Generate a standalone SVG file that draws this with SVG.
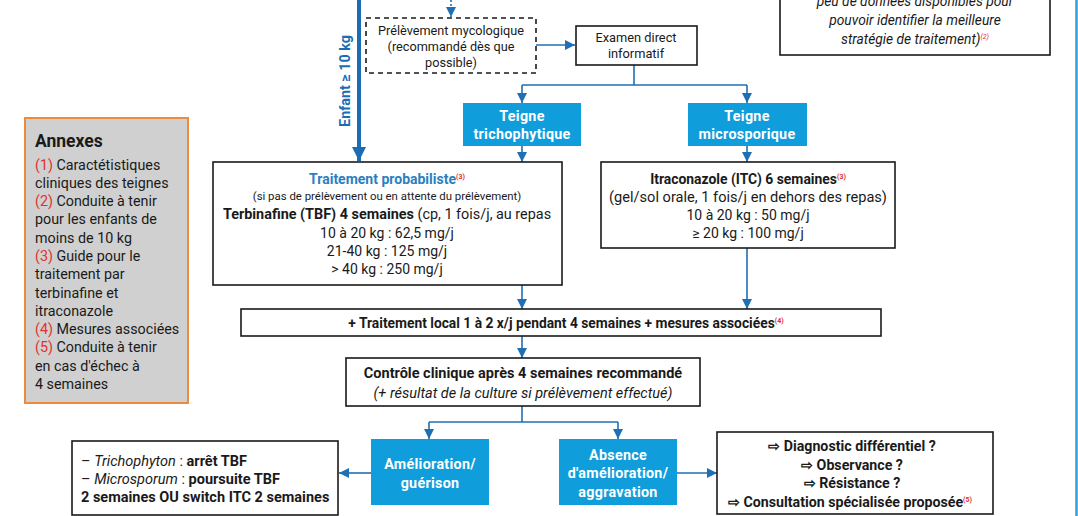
<svg xmlns="http://www.w3.org/2000/svg" width="1078" height="516" viewBox="0 0 1078 516">
<defs>
<style>
text{font-family:Roboto,"Liberation Sans",sans-serif;fill:#1a1a1a}
.c{text-anchor:middle}
.b{font-weight:bold}
.i{font-style:italic}
.w{fill:#ffffff;font-weight:bold;font-size:14.3px;letter-spacing:0.3px}
.sup{fill:#e03030;font-size:7px}
.red{fill:#e03030}
.box{fill:#ffffff;stroke:#1a1a1a;stroke-width:1.6}
.blue{fill:#0f9ddb}
.ln{fill:none;stroke:#1f6fb4;stroke-width:1.6}
</style>
<marker id="ah" markerUnits="userSpaceOnUse" markerWidth="10" markerHeight="10" refX="8" refY="4" orient="auto" viewBox="0 0 8 8">
<path d="M0,0 L8,4 L0,8 z" fill="#1f6fb4"/>
</marker>
<marker id="ahb" markerUnits="userSpaceOnUse" markerWidth="16" markerHeight="14" refX="14" refY="7" orient="auto" viewBox="0 0 14 14">
<path d="M0,0 L14,7 L0,14 z" fill="#1a6db3"/>
</marker>
</defs>
<rect width="1078" height="516" fill="#ffffff"/>
<line x1="1076.5" y1="0" x2="1076.5" y2="516" stroke="#2aa0dc" stroke-width="2.5"/>

<g id="connectors">
<line x1="359" y1="0" x2="359" y2="161" stroke="#1a6db3" stroke-width="4" marker-end="url(#ahb)"/>
<line x1="451" y1="0" x2="451" y2="17" stroke="#1f6fb4" stroke-width="1.6" stroke-dasharray="2,2" marker-end="url(#ah)"/>
<line class="ln" x1="536" y1="45" x2="575" y2="45" marker-end="url(#ah)"/>
<polyline class="ln" points="634,65 634,85"/>
<polyline class="ln" points="522,85 747,85"/>
<line class="ln" x1="522" y1="85" x2="522" y2="103" marker-end="url(#ah)"/>
<line class="ln" x1="747" y1="85" x2="747" y2="103" marker-end="url(#ah)"/>
<line class="ln" x1="522" y1="146" x2="522" y2="162" marker-end="url(#ah)"/>
<line class="ln" x1="747" y1="146" x2="747" y2="162" marker-end="url(#ah)"/>
<line class="ln" x1="522" y1="285" x2="522" y2="309" marker-end="url(#ah)"/>
<line class="ln" x1="747" y1="248" x2="747" y2="309" marker-end="url(#ah)"/>
<line class="ln" x1="522" y1="336" x2="522" y2="358" marker-end="url(#ah)"/>
<polyline class="ln" points="522,406 522,422"/>
<polyline class="ln" points="429,422 618,422"/>
<line class="ln" x1="429" y1="422" x2="429" y2="439" marker-end="url(#ah)"/>
<line class="ln" x1="618" y1="422" x2="618" y2="439" marker-end="url(#ah)"/>
<line class="ln" x1="371" y1="473" x2="339" y2="473" marker-end="url(#ah)"/>
<line class="ln" x1="677" y1="473" x2="717" y2="473" marker-end="url(#ah)"/>
<text class="b c" transform="translate(350,81) rotate(-90)" style="fill:#1a6db3;font-size:14.3px">Enfant ≥ 10 kg</text>
</g>

<g id="top-right-note">
<rect class="box" x="780" y="-20" width="270" height="75"/>
<text class="c i" x="915" y="6" font-size="13.8">peu de données disponibles pour</text>
<text class="c i" x="915" y="25" font-size="13.8">pouvoir identifier la meilleure</text>
<text class="c i" x="915" y="44" font-size="13.8">stratégie de traitement)<tspan class="sup" dy="-5">(2)</tspan></text>
</g>

<g id="prelevement">
<rect x="366" y="18" width="170" height="55" fill="#ffffff" stroke="#1a1a1a" stroke-width="1.6" stroke-dasharray="5,4"/>
<text class="c" x="451" y="35" font-size="12.7">Prélèvement mycologique</text>
<text class="c" x="451" y="51" font-size="12.7">(recommandé dès que</text>
<text class="c" x="451" y="67" font-size="12.7">possible)</text>
</g>

<g id="examen">
<rect class="box" x="576" y="26" width="121" height="39"/>
<text class="c" x="636" y="42" font-size="12.8">Examen direct</text>
<text class="c" x="636" y="58" font-size="12.8">informatif</text>
</g>

<g id="teigne-tricho">
<rect class="blue" x="463" y="103" width="118" height="43"/>
<text class="c w" x="522" y="121">Teigne</text>
<text class="c w" x="522" y="139">trichophytique</text>
</g>

<g id="teigne-micro">
<rect class="blue" x="688" y="103" width="119" height="43"/>
<text class="c w" x="747" y="121">Teigne</text>
<text class="c w" x="747" y="139">microsporique</text>
</g>

<g id="annexes">
<rect x="25" y="118" width="163" height="285" fill="#d0d0d0" stroke="#ee8a3c" stroke-width="2"/>
<text class="b" x="35" y="147" font-size="17.5">Annexes</text>
<g font-size="14.3">
<text x="35" y="170"><tspan class="red">(1)</tspan> Caractétistiques</text>
<text x="35" y="188">cliniques des teignes</text>
<text x="35" y="206"><tspan class="red">(2)</tspan> Conduite à tenir</text>
<text x="35" y="224">pour les enfants de</text>
<text x="35" y="243">moins de 10 kg</text>
<text x="35" y="261"><tspan class="red">(3)</tspan> Guide pour le</text>
<text x="35" y="279">traitement par</text>
<text x="35" y="298">terbinafine et</text>
<text x="35" y="316">itraconazole</text>
<text x="35" y="334"><tspan class="red">(4)</tspan> Mesures associées</text>
<text x="35" y="352"><tspan class="red">(5)</tspan> Conduite à tenir</text>
<text x="35" y="371">en cas d'échec à</text>
<text x="35" y="389">4 semaines</text>
</g>
</g>

<g id="traitement-probabiliste">
<rect class="box" x="213" y="162" width="349" height="123"/>
<text class="c b" x="387" y="184" font-size="14" style="fill:#2a7fc0">Traitement probabiliste<tspan class="sup" dy="-5">(3)</tspan></text>
<text class="c" x="387" y="200" font-size="11.4">(si pas de prélèvement ou en attente du prélèvement)</text>
<text class="c" x="387" y="219" font-size="14.4"><tspan class="b">Terbinafine (TBF) 4 semaines</tspan> (cp, 1 fois/j, au repas</text>
<text class="c" x="387" y="238" font-size="14">10 à 20 kg : 62,5 mg/j</text>
<text class="c" x="387" y="256" font-size="14">21-40 kg : 125 mg/j</text>
<text class="c" x="387" y="274" font-size="14">&gt; 40 kg : 250 mg/j</text>
</g>

<g id="itraconazole">
<rect class="box" x="601" y="162" width="294" height="86"/>
<text class="c b" x="748" y="184" font-size="13.9">Itraconazole (ITC) 6 semaines<tspan class="sup" dy="-5">(3)</tspan></text>
<text class="c" x="748" y="202" font-size="14.6">(gel/sol orale, 1 fois/j en dehors des repas)</text>
<text class="c" x="748" y="220" font-size="14">10 à 20 kg : 50 mg/j</text>
<text class="c" x="748" y="238" font-size="14">≥ 20 kg : 100 mg/j</text>
</g>

<g id="traitement-local">
<rect class="box" x="241" y="309" width="640" height="27"/>
<text class="c b" x="566" y="327.5" font-size="13.8">+ Traitement local 1 à 2 x/j pendant 4 semaines + mesures associées<tspan class="sup" dy="-5">(4)</tspan></text>
</g>

<g id="controle">
<rect class="box" x="346" y="358" width="354" height="48"/>
<text class="c b" x="523" y="378" font-size="14.5">Contrôle clinique après 4 semaines recommandé</text>
<text class="c i" x="523" y="398" font-size="14.5">(+ résultat de la culture si prélèvement effectué)</text>
</g>

<g id="amelioration">
<rect class="blue" x="371" y="439" width="118" height="66"/>
<text class="c w" x="430" y="469">Amélioration/</text>
<text class="c w" x="430" y="488">guérison</text>
</g>

<g id="absence">
<rect class="blue" x="559" y="439" width="118" height="66"/>
<text class="c w" x="618" y="460">Absence</text>
<text class="c w" x="618" y="478">d'amélioration/</text>
<text class="c w" x="618" y="497">aggravation</text>
</g>

<g id="conduite-amelioration">
<rect class="box" x="72" y="441" width="266" height="74"/>
<text x="81" y="466" font-size="14.5">– <tspan class="i">Trichophyton</tspan> : <tspan class="b">arrêt TBF</tspan></text>
<text x="81" y="484" font-size="14.5">– <tspan class="i">Microsporum</tspan> : <tspan class="b">poursuite TBF</tspan></text>
<text class="b" x="81" y="502" font-size="14.5">2 semaines OU switch ITC 2 semaines</text>
</g>

<g id="conduite-echec">
<rect class="box" x="717" y="432" width="276" height="82"/>
<text class="c b" x="852" y="451" font-size="14.2">⇨ Diagnostic différentiel ?</text>
<text class="c b" x="852" y="470" font-size="14.2">⇨ Observance ?</text>
<text class="c b" x="852" y="488" font-size="14.2">⇨ Résistance ?</text>
<text class="c b" x="850" y="507" font-size="14.2">⇨ Consultation spécialisée proposée<tspan class="sup" dy="-5">(5)</tspan></text>
</g>
</svg>
